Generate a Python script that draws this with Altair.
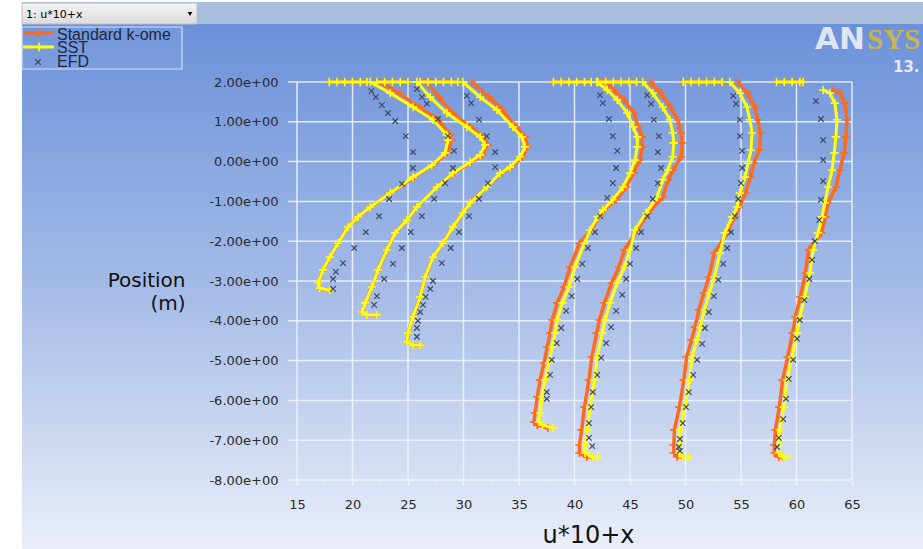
import altair as alt
import pandas as pd

# ---------------- data ----------------
# y positions (m) and u*10+x values, per profile (A = leftmost ... G = rightmost)
A_y = [2.0, 1.72, 1.37, 1.05, 0.67, 0.54, 0.22, -0.09, -0.39, -0.79, -1.14, -1.39, -1.64, -2.05, -2.40, -2.72, -3.05, -3.18, -3.23]
A_sst = [21.6, 23.4, 25.45, 27.25, 28.5, 28.6, 28.35, 27.15, 25.45, 23.4, 21.6, 20.5, 19.6, 18.7, 17.95, 17.35, 16.9, 17.05, 17.95]
A_kw = [22.4, 24.2, 25.95, 27.75, 28.8, 28.9, 28.55, 27.25, 25.55, 23.4, 21.6, 20.5, 19.6, 18.7, 17.95, 17.35, 16.9, 17.05, 17.95]

B_y = [2.0, 1.62, 1.22, 0.87, 0.62, 0.42, 0.17, -0.01, -0.29, -0.64, -1.14, -1.47, -1.79, -2.22, -2.72, -3.15, -3.55, -3.78, -3.85, -3.85]
B_sst = [25.8, 27.0, 28.5, 30.3, 31.5, 31.95, 31.5, 30.6, 29.05, 27.6, 25.8, 24.9, 23.85, 23.1, 22.3, 21.75, 21.15, 20.85, 21.3, 22.2]
B_kw = [26.6, 27.8, 29.0, 30.6, 31.8, 32.15, 31.7, 30.7, 29.15, 27.6, 25.8, 24.9, 23.85, 23.1, 22.3, 21.75, 21.15, 20.85, 21.3, 22.2]

C_y = [2.0, 1.62, 1.30, 0.87, 0.62, 0.37, 0.12, -0.14, -0.29, -0.64, -1.04, -1.29, -1.64, -2.05, -2.40, -2.90, -3.40, -3.90, -4.31, -4.53, -4.61, -4.61]
C_sst = [29.95, 31.5, 33.0, 34.45, 35.25, 35.55, 35.1, 34.2, 33.3, 32.1, 30.6, 29.95, 29.05, 28.15, 27.25, 26.55, 26.1, 25.45, 25.0, 24.9, 25.45, 26.1]
C_kw = [30.75, 32.3, 33.5, 34.75, 35.55, 35.75, 35.3, 34.3, 33.4, 32.1, 30.6, 29.95, 29.05, 28.15, 27.25, 26.55, 26.1, 25.45, 25.0, 24.9, 25.45, 26.1]

D_y = [2.0, 1.80, 1.55, 1.22, 0.87, 0.62, 0.37, 0.04, -0.29, -0.64, -0.96, -1.22, -1.39, -1.72, -2.05, -2.65, -3.15, -3.55, -3.98, -4.31, -4.66, -5.06, -5.49, -5.91, -6.32, -6.54, -6.62, -6.69]
D_sst = [42.0, 42.95, 43.85, 44.75, 45.3, 45.65, 45.65, 45.45, 45.0, 44.35, 43.45, 42.55, 42.1, 41.4, 40.9, 40.05, 39.5, 38.9, 38.45, 38.25, 38.0, 37.7, 37.35, 37.1, 36.9, 36.8, 37.1, 38.05]
D_kw = [42.6, 43.55, 44.45, 45.35, 45.75, 46.1, 46.1, 45.9, 45.3, 44.65, 43.75, 42.65, 42.2, 41.5, 40.45, 39.6, 39.05, 38.45, 38.0, 37.8, 37.55, 37.25, 36.9, 36.65, 36.45, 36.35, 36.65, 37.6]

E_y = [2.0, 1.72, 1.37, 1.05, 0.72, 0.47, 0.12, -0.21, -0.46, -0.89, -1.29, -1.72, -2.22, -2.65, -3.05, -3.55, -3.98, -4.31, -4.91, -5.49, -6.17, -6.74, -7.12, -7.32, -7.42, -7.42]
E_sst = [46.15, 47.05, 47.95, 48.6, 48.85, 48.95, 48.85, 48.4, 47.95, 47.45, 46.45, 45.45, 45.0, 44.5, 43.85, 43.2, 42.75, 42.5, 42.05, 41.8, 41.4, 41.15, 40.95, 40.95, 41.6, 42.1]
E_kw = [46.85, 47.75, 48.65, 49.3, 49.6, 49.7, 49.6, 48.9, 48.45, 47.95, 46.65, 45.65, 44.5, 44.0, 43.35, 42.7, 42.25, 42.0, 41.55, 41.3, 40.9, 40.65, 40.45, 40.45, 41.1, 41.6]

F_y = [2.0, 1.72, 1.37, 1.05, 0.72, 0.29, -0.04, -0.39, -0.79, -1.14, -1.39, -1.79, -2.30, -2.90, -3.30, -3.73, -4.16, -4.48, -4.91, -5.49, -6.17, -6.74, -7.12, -7.32, -7.42, -7.42]
F_sst = [54.0, 54.9, 55.55, 55.8, 56.0, 55.9, 55.65, 55.35, 54.9, 54.65, 54.2, 53.55, 53.1, 52.6, 52.15, 51.7, 51.35, 51.05, 50.6, 50.35, 49.95, 49.5, 49.45, 49.45, 49.75, 50.25]
F_kw = [54.7, 55.6, 56.25, 56.5, 56.75, 56.65, 56.15, 55.85, 55.4, 54.85, 54.4, 53.75, 52.6, 52.1, 51.65, 51.2, 50.85, 50.55, 50.1, 49.85, 49.45, 49.0, 48.95, 48.95, 49.25, 49.75]

G_y = [1.80, 1.72, 1.47, 1.05, 0.62, 0.22, -0.21, -0.64, -1.04, -1.39, -1.79, -2.22, -2.80, -3.40, -3.90, -4.31, -4.91, -5.49, -6.17, -6.74, -7.12, -7.32, -7.42, -7.42]
G_sst = [62.4, 63.0, 63.45, 63.65, 63.55, 63.4, 63.2, 62.85, 62.55, 62.3, 61.95, 61.5, 61.2, 60.75, 60.3, 60.05, 59.6, 59.15, 58.85, 58.5, 58.4, 58.4, 58.8, 59.15]
G_kw = [63.3, 63.9, 64.35, 64.55, 64.45, 64.3, 63.9, 63.55, 62.85, 62.6, 62.25, 61.1, 60.8, 60.35, 59.9, 59.65, 59.2, 58.75, 58.45, 58.1, 58.0, 58.0, 58.4, 58.75]

# points lying on the top boundary (y = 2)
A_top = [17.9, 18.6, 19.3, 20.0, 20.7, 21.3]
B_top = [22.2, 22.9, 23.6, 24.3, 25.0]
C_top = [26.1, 26.8, 27.5, 28.2, 28.9, 29.5]
D_top = [38.1, 38.8, 39.5, 40.2, 40.9, 41.5]
E_top = [42.1, 42.8, 43.5, 44.2, 44.9, 45.6]
F_top = [49.8, 50.5, 51.2, 51.9, 52.6, 53.3]
G_top = [58.2, 58.9, 59.6, 60.3, 60.6]

# experimental data (EFD)
A_efd_y = [1.77, 1.62, 1.42, 1.22, 1.02, 0.64, 0.24, -0.16, -0.56, -0.94, -1.37, -1.77, -2.17, -2.55, -2.77, -2.95, -3.2]
A_efd_x = [21.7, 22.1, 22.65, 23.2, 23.85, 24.8, 25.45, 25.45, 24.45, 23.3, 22.4, 21.2, 20.15, 19.15, 18.5, 18.25, 18.25]
B_efd_y = [1.82, 1.62, 1.45, 1.07, 0.64, 0.27, -0.16, -0.54, -0.94, -1.37, -1.77, -2.17, -2.57, -2.95, -3.38, -3.6]
B_efd_x = [25.8, 26.25, 26.7, 27.7, 28.6, 29.15, 29.05, 28.35, 27.35, 26.25, 25.25, 24.45, 23.65, 22.85, 22.2, 21.95]
C_efd_y = [1.65, 1.47, 1.05, 0.64, 0.24, -0.14, -0.54, -0.94, -1.37, -1.77, -2.17, -2.55, -3.0, -3.2, -3.4, -3.6, -3.78, -4.0, -4.18, -4.4]
C_efd_x = [30.3, 30.7, 31.4, 32.1, 32.85, 32.85, 32.2, 31.4, 30.5, 29.6, 28.85, 28.05, 27.25, 27.0, 26.6, 26.35, 26.1, 25.9, 25.8, 25.8]
D_efd_y = [1.67, 1.47, 1.07, 0.64, 0.27, -0.16, -0.54, -0.91, -1.37, -1.77, -2.17, -2.57, -2.95, -3.38, -3.75, -4.18, -4.56, -4.98, -5.36, -5.79, -5.96]
D_efd_x = [42.3, 42.55, 43.1, 43.45, 43.85, 43.75, 43.45, 42.95, 42.3, 41.85, 41.2, 40.7, 40.25, 39.75, 39.25, 38.8, 38.4, 37.95, 37.8, 37.5, 37.5]
E_efd_y = [1.67, 1.45, 1.05, 0.64, 0.24, -0.16, -0.54, -0.94, -1.37, -1.77, -2.17, -2.57, -2.95, -3.35, -3.75, -4.16, -4.56, -4.93, -5.36, -5.79, -6.17, -6.57, -6.94, -7.15]
E_efd_x = [46.55, 46.9, 47.15, 47.6, 47.5, 47.8, 47.5, 47.05, 46.55, 46.0, 45.55, 45.0, 44.65, 44.3, 43.75, 43.3, 42.85, 42.4, 42.05, 41.65, 41.5, 41.3, 41.3, 41.6]
F_efd_y = [1.65, 1.45, 1.05, 0.64, 0.27, -0.16, -0.54, -0.94, -1.37, -1.77, -2.17, -2.57, -2.97, -3.38, -3.78, -4.18, -4.58, -4.98, -5.36, -5.79, -6.17, -6.57, -6.97, -7.17, -7.27]
F_efd_x = [54.3, 54.55, 54.9, 54.9, 55.1, 55.1, 55.0, 54.75, 54.45, 54.1, 53.75, 53.4, 52.95, 52.55, 52.1, 51.75, 51.5, 51.05, 50.7, 50.3, 50.05, 49.75, 49.5, 49.4, 49.5]
G_efd_y = [1.52, 1.07, 0.54, 0.04, -0.49, -0.96, -1.47, -2.0, -2.47, -2.95, -3.48, -3.98, -4.45, -4.98, -5.46, -5.96, -6.47, -6.94, -7.17]
G_efd_x = [61.75, 62.2, 62.4, 62.4, 62.4, 62.2, 62.05, 61.65, 61.4, 61.15, 60.7, 60.3, 60.05, 59.7, 59.3, 59.05, 58.8, 58.4, 58.25]

x_ticks = [15, 20, 25, 30, 35, 40, 45, 50, 55, 60, 65]
x_minor = [17.5, 22.5, 27.5, 32.5, 37.5, 42.5, 47.5, 52.5, 57.5, 62.5]
y_ticks = [2, 1, 0, -1, -2, -3, -4, -5, -6, -7, -8]
legend_labels = ["Standard k-ome", "SST", "EFD"]

# ---------------- build tables ----------------
profiles = [
    ("A", A_y, A_sst, A_kw, A_top, A_efd_y, A_efd_x),
    ("B", B_y, B_sst, B_kw, B_top, B_efd_y, B_efd_x),
    ("C", C_y, C_sst, C_kw, C_top, C_efd_y, C_efd_x),
    ("D", D_y, D_sst, D_kw, D_top, D_efd_y, D_efd_x),
    ("E", E_y, E_sst, E_kw, E_top, E_efd_y, E_efd_x),
    ("F", F_y, F_sst, F_kw, F_top, F_efd_y, F_efd_x),
    ("G", G_y, G_sst, G_kw, G_top, G_efd_y, G_efd_x),
]
sst_rows, kw_rows, efd_rows = [], [], []
for name, ys, xs, xk, top, ey, ex in profiles:
    for i, xv in enumerate(top):
        sst_rows.append({"seg": name + "_top", "idx": i, "x": xv, "y": 2.0})
        kw_rows.append({"seg": name + "_top", "idx": i, "x": xv, "y": 2.0})
    for i, (yv, xv, kv) in enumerate(zip(ys, xs, xk)):
        sst_rows.append({"seg": name, "idx": i, "x": xv, "y": yv})
        kw_rows.append({"seg": name, "idx": i, "x": kv, "y": yv})
    for yv, xv in zip(ey, ex):
        efd_rows.append({"seg": name, "x": xv, "y": yv})
sst_df = pd.DataFrame(sst_rows)
kw_df = pd.DataFrame(kw_rows)
efd_df = pd.DataFrame(efd_rows)
gx_df = pd.DataFrame({"x": x_ticks})
gm_df = pd.DataFrame({"x": x_minor})
gy_df = pd.DataFrame({"y": y_ticks})
one = pd.DataFrame({"k": [0]})

# ---------------- layout ----------------
L, T = 288, 82          # plot origin in the page
W, H = 564, 398         # plot size
ORANGE = "#ff6a1c"
YELLOW = "#ffff10"
EFDC = "#3d4662"
GRID = "#eef3fc"
PLUS = "M-1,0L1,0M0,-1L0,1"
XMARK = "M-1,-1L1,1M-1,1L1,-1"

xscale = alt.Scale(domain=[14.19, 65], nice=False, zero=False)
yscale = alt.Scale(domain=[-8, 2], nice=False, zero=False)

xaxis = alt.Axis(values=x_ticks, grid=False, domain=False, ticks=True, tickSize=5,
                 tickColor=GRID, tickWidth=1.5, labelFont="DejaVu Sans", labelFontSize=13,
                 labelColor="#2a2a2a", labelPadding=13, labelFlush=False,
                 title="u*10+x", titleFont="DejaVu Sans", titleFontSize=24,
                 titleFontWeight="normal", titleColor="#111111", titleX=300, titleY=62,
                 titleBaseline="alphabetic", titleAlign="center", zindex=1)
yaxis = alt.Axis(values=y_ticks, grid=False, domain=False, ticks=False, labelPadding=10,
                 labelExpr="(datum.value < 0 ? '-' : '') + format(abs(datum.value), '.2f') + 'e+00'",
                 labelFont="DejaVu Sans", labelFontSize=13, labelColor="#2a2a2a",
                 title=["Position", "(m)"], titleFont="DejaVu Sans", titleFontSize=20,
                 titleFontWeight="normal", titleColor="#111111", titleAngle=0,
                 titleAlign="right", titleBaseline="alphabetic", titleX=-103, titleY=204,
                 titleLineHeight=23, zindex=1)

X = alt.X("x:Q", scale=xscale, axis=xaxis)
Y = alt.Y("y:Q", scale=yscale, axis=yaxis)


def prect(x0, x1, y0, y1, **kw):
    return alt.Chart(one).mark_rect(**kw).encode(
        x=alt.value(x0 - L), x2=alt.value(x1 - L), y=alt.value(y0 - T), y2=alt.value(y1 - T))


def ptext(s, x, y, **kw):
    return alt.Chart(one).mark_text(text=s, align="left", baseline="alphabetic", **kw).encode(
        x=alt.value(x - L), y=alt.value(y - T))


def ppoint(x, y, **kw):
    return alt.Chart(one).mark_point(**kw).encode(x=alt.value(x - L), y=alt.value(y - T))


def prule(x0, x1, y, **kw):
    return alt.Chart(one).mark_rule(**kw).encode(
        x=alt.value(x0 - L), x2=alt.value(x1 - L), y=alt.value(y - T))


bg_grad = alt.LinearGradient(
    gradient="linear", x1=0, y1=0, x2=0, y2=1,
    stops=[alt.GradientStop(color="#6b91da", offset=0),
           alt.GradientStop(color="#a4bbe7", offset=0.5),
           alt.GradientStop(color="#e9eef9", offset=1)])
bar_grad = alt.LinearGradient(
    gradient="linear", x1=0, y1=0, x2=0, y2=1,
    stops=[alt.GradientStop(color="#f4f4f4", offset=0),
           alt.GradientStop(color="#dcdcdc", offset=1)])

background = prect(22, 923, 24, 549, fill=bg_grad)
topbar = prect(22, 923, 2, 24, fill="#a9bedb")
dropdown = prect(22, 197, 3, 24, fill=bar_grad, stroke="#b8c0cc", strokeWidth=1)
dropdown_text = ptext("1: u*10+x", 26, 18, font="DejaVu Sans", fontSize=11, color="#000000")
dropdown_arrow = ppoint(190, 14, shape="triangle-down", filled=True, size=22, color="#000000", opacity=1)

vgrid = alt.Chart(gx_df).mark_rule(color=GRID, strokeWidth=1.5, opacity=0.9).encode(x=X)
hgrid = alt.Chart(gy_df).mark_rule(color=GRID, strokeWidth=1.5, opacity=0.9).encode(y=Y)
minor = alt.Chart(gm_df).mark_rule(color=GRID, strokeWidth=1, opacity=0.8).encode(
    x=X, y=alt.value(H), y2=alt.value(H + 3))

kw_line = alt.Chart(kw_df).mark_line(color=ORANGE, strokeWidth=3.5).encode(
    x=X, y=Y, detail="seg:N", order="idx:Q")
kw_pts = alt.Chart(kw_df).mark_point(shape=PLUS, filled=False, size=70, strokeWidth=1.6,
                                     color=ORANGE, opacity=1).encode(x=X, y=Y)
sst_line = alt.Chart(sst_df).mark_line(color=YELLOW, strokeWidth=3).encode(
    x=X, y=Y, detail="seg:N", order="idx:Q")
sst_pts = alt.Chart(sst_df).mark_point(shape=PLUS, filled=False, size=70, strokeWidth=1.6,
                                       color=YELLOW, opacity=1).encode(x=X, y=Y)
efd_pts = alt.Chart(efd_df).mark_point(shape=XMARK, filled=False, size=30, strokeWidth=1.2,
                                       color=EFDC, opacity=1).encode(x=X, y=Y)

# legend (drawn like the Fluent legend box)
leg_box = prect(22, 182, 27, 69, fill="#ffffff", fillOpacity=0.05, stroke="#d6e2f6", strokeWidth=1.2)
leg_l1 = prule(23, 54, 33, color=ORANGE, strokeWidth=3)
leg_m1 = ppoint(39, 33, shape=PLUS, filled=False, size=70, strokeWidth=1.6, color=ORANGE, opacity=1)
leg_l2 = prule(23, 54, 47, color=YELLOW, strokeWidth=3)
leg_m2 = ppoint(39, 47, shape=PLUS, filled=False, size=70, strokeWidth=1.6, color=YELLOW, opacity=1)
leg_m3 = ppoint(38, 62, shape=XMARK, filled=False, size=30, strokeWidth=1.2, color=EFDC, opacity=1)
leg_t1 = ptext(legend_labels[0], 57, 40, font="Liberation Sans", fontSize=16, color="#1f2740")
leg_t2 = ptext(legend_labels[1], 57, 53, font="Liberation Sans", fontSize=16, color="#1f2740")
leg_t3 = ptext(legend_labels[2], 57, 67, font="Liberation Sans", fontSize=16, color="#1f2740")

# ANSYS logo
logo1 = ptext("AN", 815, 49, font="DejaVu Sans", fontSize=31, fontWeight="bold", color="#dfe5f4")
logo2 = ptext("SYS", 867, 49, font="Liberation Serif", fontSize=29, fontWeight="bold", color="#cbb44c")
logo3 = ptext("13.", 893, 72, font="DejaVu Sans", fontSize=15, fontWeight="bold", color="#e6ebf7")

chart = alt.layer(
    background, topbar, dropdown, dropdown_text, dropdown_arrow,
    vgrid, hgrid, minor,
    kw_line, kw_pts, sst_line, sst_pts, efd_pts,
    leg_box, leg_l1, leg_m1, leg_l2, leg_m2, leg_m3, leg_t1, leg_t2, leg_t3,
    logo1, logo2, logo3,
).properties(
    width=W, height=H,
    autosize=alt.AutoSizeParams(type="none"),
    padding={"left": L, "top": T, "right": 923 - L - W, "bottom": 549 - T - H},
    background="#ffffff",
).configure_view(strokeWidth=0)

chart.save("out.html", embed_options={"renderer": "svg", "actions": False})
